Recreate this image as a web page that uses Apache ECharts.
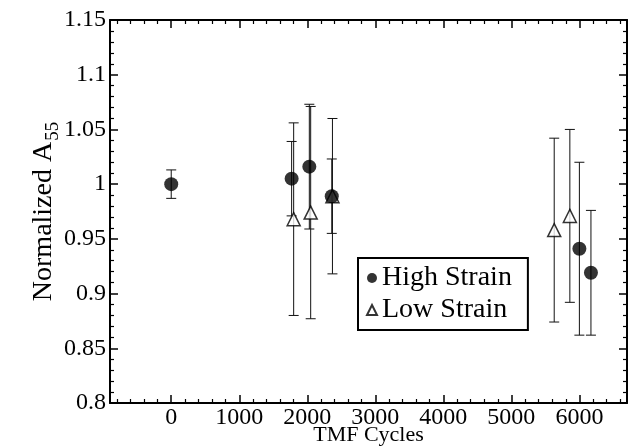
<!DOCTYPE html>
<html>
<head>
<meta charset="utf-8">
<script src="https://cdn.jsdelivr.net/npm/echarts@6/dist/echarts.min.js"></script>
<style>
  html, body { margin: 0; padding: 0; background: #fff; }
  #chart { width: 639px; height: 446px; }
</style>
</head>
<body>
<div id="chart"></div>
<script>
// high strain points: cycles, normalized A55, error (+/-)
const highX = [0, 1770, 2030, 2360, 6000, 6170];
const highY = [1.0, 1.005, 1.016, 0.989, 0.941, 0.919];
const highErr = [0.013, 0.034, 0.057, 0.034, 0.079, 0.057];

// low strain points
const lowX = [1800, 2050, 2370, 5630, 5860];
const lowY = [0.968, 0.974, 0.989, 0.958, 0.971];
const lowErr = [0.088, 0.097, 0.071, 0.084, 0.079];

const xLabels = [0, 1000, 2000, 3000, 4000, 5000, 6000];
const yLabels = [0.8, 0.85, 0.9, 0.95, 1, 1.05, 1.1, 1.15];

const xMinor = [];
for (let v = -800; v <= 6600; v += 200) {
  if (v % 1000 !== 0) xMinor.push(v);
}

const font = "Liberation Serif";
const chart = echarts.init(document.getElementById("chart"));

function errData(xs, ys, es) {
  return xs.map((x, i) => [x, ys[i] - es[i], ys[i] + es[i]]);
}

function renderErr(params, api) {
  const x = api.value(0);
  const top = api.coord([x, api.value(2)]);
  const bot = api.coord([x, api.value(1)]);
  const w = 5;
  const style = { stroke: "#111", lineWidth: 1 };
  return {
    type: "group",
    children: [
      { type: "line", shape: { x1: top[0], y1: top[1], x2: bot[0], y2: bot[1] }, style },
      { type: "line", shape: { x1: top[0] - w, y1: top[1], x2: top[0] + w, y2: top[1] }, style },
      { type: "line", shape: { x1: bot[0] - w, y1: bot[1], x2: bot[0] + w, y2: bot[1] }, style },
    ],
  };
}

const xBase = {
  type: "value",
  min: -900,
  max: 6700,
  splitLine: { show: false },
};

const yBase = {
  type: "value",
  min: 0.8,
  max: 1.15,
  interval: 0.05,
  splitLine: { show: false },
  axisLine: { show: true, onZero: false, lineStyle: { color: "#000", width: 2 } },
  axisTick: { inside: true, length: 8, lineStyle: { color: "#000", width: 1.5 } },
  minorTick: { show: true, splitNumber: 5, length: 4, lineStyle: { color: "#000", width: 1.2 } },
};

const option = {
  animation: false,
  grid: { left: 110, right: 12, top: 20, bottom: 43, outerBoundsMode: "none" },
  xAxis: [
    Object.assign({}, xBase, {
      position: "bottom",
      name: "TMF Cycles",
      nameLocation: "middle",
      nameGap: 21,
      nameMoveOverlap: false,
      nameTextStyle: { fontFamily: font, fontSize: 22, color: "#000" },
      axisLine: { show: true, onZero: false, lineStyle: { color: "#000", width: 2 } },
      axisTick: { inside: true, length: 8, customValues: xLabels, lineStyle: { color: "#000", width: 1.5 } },
      axisLabel: {
        customValues: xLabels,
        margin: 3,
        fontFamily: font,
        fontSize: 24,
        color: "#000",
        formatter: (v) => String(v),
      },
    }),
    Object.assign({}, xBase, {
      position: "bottom",
      axisLine: { show: false, onZero: false },
      axisTick: { inside: true, length: 4, customValues: xMinor, lineStyle: { color: "#000", width: 1.2 } },
      axisLabel: { show: false },
    }),
    Object.assign({}, xBase, {
      position: "top",
      axisLine: { show: true, onZero: false, lineStyle: { color: "#000", width: 2 } },
      axisTick: { inside: true, length: 8, customValues: xLabels, lineStyle: { color: "#000", width: 1.5 } },
      axisLabel: { show: false },
    }),
    Object.assign({}, xBase, {
      position: "top",
      axisLine: { show: false, onZero: false },
      axisTick: { inside: true, length: 4, customValues: xMinor, lineStyle: { color: "#000", width: 1.2 } },
      axisLabel: { show: false },
    }),
  ],
  yAxis: [
    Object.assign({}, yBase, {
      position: "left",
      name: "{a|Normalized A}{s|55}",
      nameLocation: "middle",
      nameRotate: 90,
      nameGap: 50,
      nameMoveOverlap: false,
      nameTextStyle: {
        rich: {
          a: { fontFamily: font, fontSize: 28, color: "#000", lineHeight: 30, verticalAlign: "top" },
          s: { fontFamily: font, fontSize: 19, color: "#000", lineHeight: 20, padding: [14, 0, 0, 1], verticalAlign: "top" },
        },
      },
      axisLabel: {
        margin: 4,
        fontFamily: font,
        fontSize: 24,
        color: "#000",
        formatter: (v) => String(parseFloat(v.toFixed(2))),
      },
    }),
    Object.assign({}, yBase, {
      position: "right",
      axisLabel: { show: false },
    }),
  ],
  legend: {
    orient: "vertical",
    left: 358,
    top: 258,
    padding: [6, 16, 6, 8],
    itemGap: 4,
    itemWidth: 10,
    itemHeight: 10,
    borderColor: "#000",
    borderWidth: 2,
    backgroundColor: "#fff",
    textStyle: { fontFamily: font, fontSize: 28, color: "#000" },
    data: [
      { name: "High Strain", icon: "circle" },
      { name: "Low Strain", icon: "triangle" },
    ],
  },
  series: [
    {
      type: "custom",
      name: "lowErr",
      renderItem: renderErr,
      data: errData(lowX, lowY, lowErr),
      z: 1,
      silent: true,
    },
    {
      type: "custom",
      name: "highErr",
      renderItem: renderErr,
      data: errData(highX, highY, highErr),
      z: 1,
      silent: true,
    },
    {
      type: "scatter",
      name: "Low Strain",
      symbol: "triangle",
      symbolSize: 13,
      itemStyle: { color: "#fff", borderColor: "#000", borderWidth: 1.5 },
      data: lowX.map((x, i) => [x, lowY[i]]),
      z: 2,
    },
    {
      type: "scatter",
      name: "High Strain",
      symbol: "circle",
      symbolSize: 14,
      itemStyle: { color: "#000" },
      data: highX.map((x, i) => [x, highY[i]]),
      z: 3,
    },
  ],
};

chart.setOption(option);
</script>
</body>
</html>
